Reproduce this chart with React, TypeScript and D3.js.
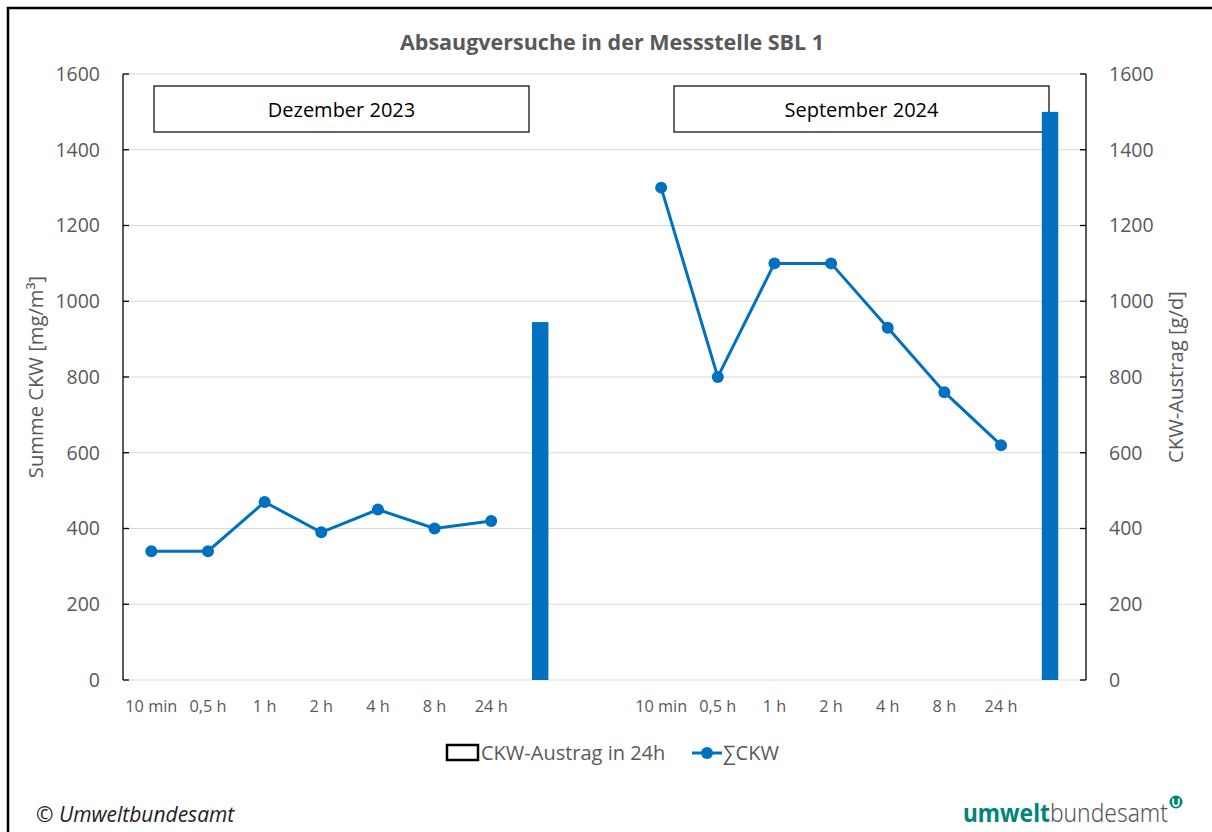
import React from "react";
import * as d3 from "d3";

// slots along the category axis (two measurement campaigns, bar slot after each)
const slots = [
  "d10", "d05", "d1", "d2", "d4", "d8", "d24", "dBar", "gap",
  "s10", "s05", "s1", "s2", "s4", "s8", "s24", "sBar",
];
const slotLabels = [
  "10 min", "0,5 h", "1 h", "2 h", "4 h", "8 h", "24 h", "", "",
  "10 min", "0,5 h", "1 h", "2 h", "4 h", "8 h", "24 h", "",
];

// ∑CKW [mg/m³]
const decSlots = ["d10", "d05", "d1", "d2", "d4", "d8", "d24"];
const decValues = [340, 340, 470, 390, 450, 400, 420];
const sepSlots = ["s10", "s05", "s1", "s2", "s4", "s8", "s24"];
const sepValues = [1300, 800, 1100, 1100, 930, 760, 620];

// CKW-Austrag in 24h [g/d]
const barSlots = ["dBar", "sBar"];
const barValues = [945, 1500];

const yTicks = [0, 200, 400, 600, 800, 1000, 1200, 1400, 1600];

const BLUE = "#0070C0";
const GREY = "#595959";
const TEAL = "#00857a";
const FONT = "'Open Sans', 'Noto Sans', sans-serif";

const App = () => {
  const W = 1212;
  const H = 832;
  const left = 123;
  const right = 1086;
  const top = 74;
  const bottom = 680;

  const x = d3.scaleBand<string>().domain(slots).range([left, right]).padding(0);
  const y = d3.scaleLinear().domain([0, 1600]).range([bottom, top]);
  const y2 = d3.scaleLinear().domain([0, 1600]).range([bottom, top]);
  const step = x.step();
  const cx = (s: string) => (x(s) as number) + step / 2;

  const path = (keys: string[], vals: number[]) =>
    d3
      .line<number>()
      .x((_, i) => cx(keys[i]))
      .y((d) => y(d))(vals) as string;

  const series = [
    { keys: decSlots, vals: decValues },
    { keys: sepSlots, vals: sepValues },
  ];

  return (
    <svg
      width={W}
      height={H}
      style={{ position: "absolute", left: 0, top: 0, background: "#fff" }}
      fontFamily={FONT}
    >
      {/* outer frame */}
      <path d={`M8,${H + 5} V8 H${W + 5}`} fill="none" stroke="#000" strokeWidth={2.5} />

      <text x={612} y={50} textAnchor="middle" fontSize={21.5} fontWeight="bold" fill={GREY}>
        Absaugversuche in der Messstelle SBL 1
      </text>

      {/* gridlines */}
      {yTicks.map((t) => (
        <line key={t} x1={left} x2={right} y1={y(t)} y2={y(t)} stroke="#d9d9d9" strokeWidth={1.2} />
      ))}

      {/* axes */}
      <line x1={left} x2={left} y1={top} y2={bottom} stroke="#000" strokeWidth={1.3} />
      <line x1={right} x2={right} y1={top} y2={bottom} stroke="#000" strokeWidth={1.3} />
      {yTicks.map((t) => (
        <g key={"t" + t}>
          <line x1={left} x2={left + 6} y1={y(t)} y2={y(t)} stroke="#000" strokeWidth={1.3} />
          <line x1={right - 6} x2={right} y1={y2(t)} y2={y2(t)} stroke="#000" strokeWidth={1.3} />
          <text x={100} y={y(t)} dy="0.35em" textAnchor="end" fontSize={19.5} fill={GREY}>
            {t}
          </text>
          <text x={1109} y={y2(t)} dy="0.35em" textAnchor="start" fontSize={19.5} fill={GREY}>
            {t}
          </text>
        </g>
      ))}

      {/* category labels */}
      {slots.map((s, i) => (
        <text key={s} x={cx(s)} y={712} textAnchor="middle" fontSize={16.3} fill={GREY}>
          {slotLabels[i]}
        </text>
      ))}

      {/* axis titles */}
      <text
        transform={`translate(43,${(top + bottom) / 2}) rotate(-90)`}
        textAnchor="middle"
        fontSize={20.2}
        fill={GREY}
      >
        Summe CKW [mg/m³]
      </text>
      <text
        transform={`translate(1183,${(top + bottom) / 2}) rotate(-90)`}
        textAnchor="middle"
        fontSize={20.2}
        fill={GREY}
      >
        CKW-Austrag [g/d]
      </text>

      {/* campaign boxes */}
      <rect x={154} y={86} width={375} height={46} fill="#fff" stroke="#000" strokeWidth={1.2} />
      <text x={341.5} y={110} dy="0.35em" textAnchor="middle" fontSize={20} fill="#000">
        Dezember 2023
      </text>
      <rect x={674} y={86} width={375} height={46} fill="none" stroke="#000" strokeWidth={1.2} />
      <text x={861.5} y={110} dy="0.35em" textAnchor="middle" fontSize={20} fill="#000">
        September 2024
      </text>

      {/* bars (secondary axis) */}
      {barSlots.map((s, i) => (
        <rect
          key={s}
          x={(x(s) as number) + step * 0.22}
          y={y2(barValues[i])}
          width={step * 0.29}
          height={bottom - y2(barValues[i])}
          fill={BLUE}
        />
      ))}

      {/* ∑CKW lines */}
      {series.map((sr, k) => (
        <g key={k}>
          <path d={path(sr.keys, sr.vals)} fill="none" stroke={BLUE} strokeWidth={3} />
          {sr.vals.map((v, i) => (
            <circle key={i} cx={cx(sr.keys[i])} cy={y(v)} r={6} fill={BLUE} />
          ))}
        </g>
      ))}

      {/* legend */}
      <rect x={447} y={745} width={31} height={15} fill="none" stroke="#000" strokeWidth={2.5} />
      <text x={481} y={760} fontSize={20} fill={GREY}>
        CKW-Austrag in 24h
      </text>
      <line x1={692} x2={722} y1={753} y2={753} stroke={BLUE} strokeWidth={3} />
      <circle cx={707} cy={753} r={6} fill={BLUE} />
      <text x={723} y={760} fontSize={20} fill={GREY}>
        ∑CKW
      </text>

      {/* footer */}
      <text x={36} y={822} fontSize={21} fontStyle="italic" fill="#222">
        © Umweltbundesamt
      </text>
      <text
        x={963}
        y={822}
        fontSize={25}
        fill="#555"
        fontFamily="'Noto Sans', sans-serif"
        textLength={205}
        lengthAdjust="spacingAndGlyphs"
      >
        <tspan fill={TEAL} fontWeight="bold">umwelt</tspan>
        <tspan fontWeight={300}>bundesamt</tspan>
      </text>
      {/* logo mark */}
      <circle cx={1176} cy={802} r={6.5} fill={TEAL} />
      <path
        d="M1173.2,798.6 V803 a2.8,2.8 0 0 0 5.6,0 V798.6"
        fill="none"
        stroke="#fff"
        strokeWidth={1.8}
      />
    </svg>
  );
};

export default App;
